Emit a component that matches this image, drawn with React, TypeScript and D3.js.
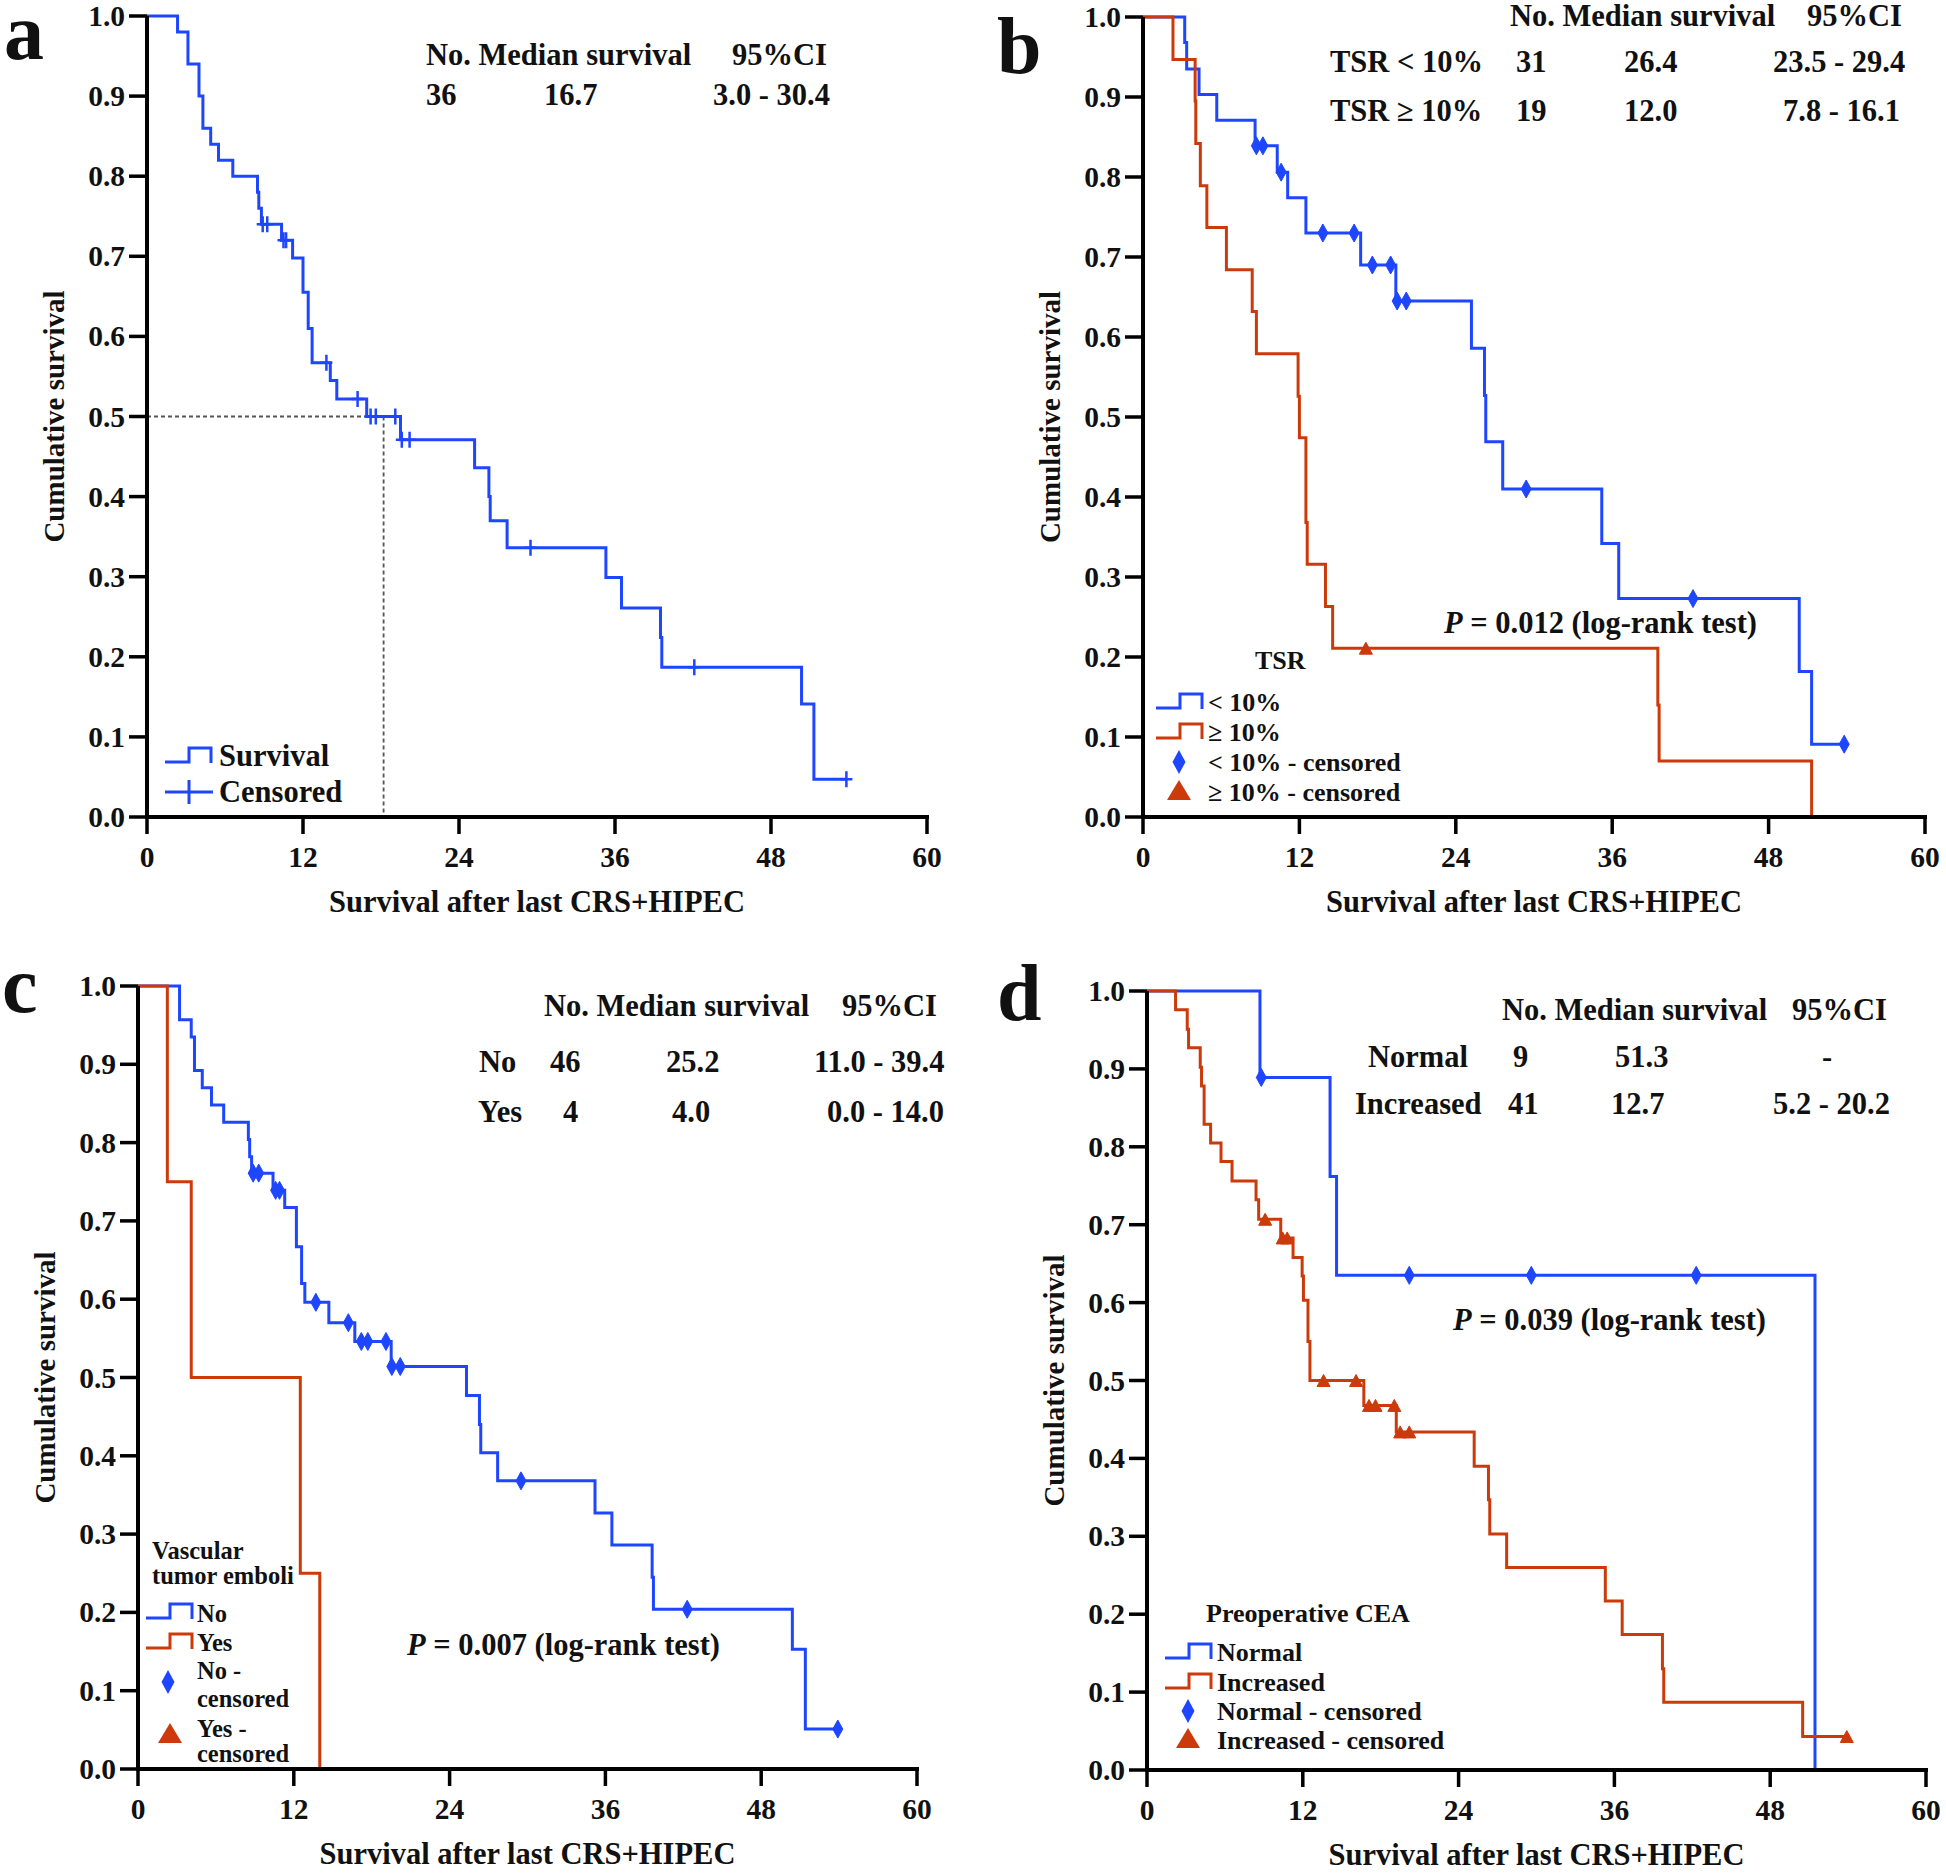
import React from 'react';
import * as d3 from 'd3';

const BLUE = '#1e46ff';
const RED = '#cc3a0c';
const FONT = '"Liberation Serif", "Times New Roman", serif';

const xTicks = [0, 12, 24, 36, 48, 60];
const yTicks = [0, 0.1, 0.2, 0.3, 0.4, 0.5, 0.6, 0.7, 0.8, 0.9, 1.0];

// Panel a: overall
const aTimes = [2.35, 3.15, 4.0, 4.3, 4.9, 5.5, 6.6, 8.5, 8.6, 8.8, 10.35, 11.2, 12.0, 12.4, 12.7, 14.1, 14.6, 16.9, 19.5, 25.2, 26.3, 26.4, 27.7, 35.3, 36.5, 39.5, 39.6, 50.35, 51.3];
const aSurv = [0.98, 0.94, 0.90, 0.86, 0.84, 0.82, 0.80, 0.78, 0.76, 0.74, 0.72, 0.698, 0.655, 0.61, 0.567, 0.545, 0.522, 0.50, 0.471, 0.436, 0.40, 0.37, 0.336, 0.299, 0.261, 0.224, 0.187, 0.141, 0.047];
const aCens = [8.9, 9.25, 10.5, 10.7, 13.8, 16.2, 17.2, 17.6, 19.1, 19.6, 20.2, 29.5, 42.1, 53.8];
const aMedian = 18.2;

// Panel b: TSR
const bBlueT = [3.2, 3.35, 4.3, 5.66, 8.6, 10.3, 11.1, 12.5, 16.7, 19.4, 25.2, 26.2, 26.3, 27.6, 35.2, 36.5, 50.35, 51.3];
const bBlueS = [0.968, 0.935, 0.903, 0.871, 0.839, 0.806, 0.774, 0.73, 0.69, 0.645, 0.586, 0.527, 0.469, 0.41, 0.342, 0.273, 0.182, 0.091];
const bBlueC = [8.7, 9.2, 10.6, 13.8, 16.2, 17.6, 19.0, 19.5, 20.2, 29.4, 42.2, 53.8];
const bRedT = [2.3, 4.0, 4.05, 4.4, 4.9, 6.4, 8.38, 8.7, 11.9, 12.0, 12.5, 12.6, 14.0, 14.55, 39.5, 39.6, 51.3];
const bRedS = [0.947, 0.895, 0.842, 0.789, 0.737, 0.684, 0.632, 0.579, 0.526, 0.474, 0.368, 0.316, 0.263, 0.211, 0.14, 0.07, 0];
const bRedC = [17.1];

// Panel c: vascular tumor emboli
const cBlueT = [3.2, 4.1, 4.35, 4.95, 5.66, 6.6, 8.5, 8.6, 8.75, 10.4, 11.3, 12.2, 12.6, 12.85, 14.7, 16.7, 19.5, 25.3, 26.3, 26.4, 27.7, 35.2, 36.5, 39.6, 39.7, 50.4, 51.4];
const cBlueS = [0.957, 0.935, 0.892, 0.870, 0.848, 0.826, 0.804, 0.782, 0.761, 0.739, 0.717, 0.667, 0.62, 0.596, 0.570, 0.546, 0.514, 0.477, 0.44, 0.404, 0.368, 0.327, 0.286, 0.245, 0.204, 0.153, 0.051];
const cBlueC = [8.87, 9.3, 10.6, 10.9, 13.7, 16.2, 17.2, 17.7, 19.1, 19.55, 20.2, 29.5, 42.3, 53.9];
const cRedT = [2.26, 4.1, 12.5, 14.0];
const cRedS = [0.75, 0.5, 0.25, 0];
const cRedC: number[] = [];

// Panel d: preoperative CEA
const dBlueT = [8.7, 14.1, 14.6, 51.45];
const dBlueS = [0.889, 0.762, 0.635, 0];
const dBlueC = [8.8, 20.2, 29.6, 42.3];
const dRedT = [2.2, 3.1, 3.2, 4.1, 4.2, 4.4, 4.9, 5.7, 6.55, 8.4, 8.6, 10.3, 11.25, 11.95, 12.05, 12.4, 12.55, 16.7, 19.2, 25.2, 26.3, 26.4, 27.7, 35.3, 36.6, 39.7, 39.8, 50.5];
const dRedS = [0.976, 0.951, 0.927, 0.902, 0.878, 0.829, 0.805, 0.781, 0.756, 0.732, 0.707, 0.683, 0.658, 0.634, 0.603, 0.55, 0.50, 0.468, 0.434, 0.39, 0.347, 0.303, 0.26, 0.217, 0.174, 0.13, 0.087, 0.043];
const dRedC = [9.1, 10.45, 10.8, 13.6, 16.1, 17.1, 17.6, 19.05, 19.5, 20.2, 53.9];

type Marker = 'plus' | 'diamond' | 'triangle';
type Series = { times: number[]; surv: number[]; cens: number[]; color: string; marker: Marker };
type Geo = { x0: number; x1: number; yTop: number; yBot: number };

function survAt(times: number[], surv: number[], t: number) {
  let s = 1;
  for (let i = 0; i < times.length; i++) if (times[i] <= t) s = surv[i];
  return s;
}

function markerPath(m: Marker, cx: number, cy: number, big = false) {
  const p = d3.path();
  if (m === 'plus') {
    const h = big ? 12 : 8, w = big ? 0 : 6;
    p.moveTo(cx, cy - h); p.lineTo(cx, cy + h);
    if (w) { p.moveTo(cx - w, cy); p.lineTo(cx + w, cy); }
  } else if (m === 'diamond') {
    const w = big ? 6.5 : 5, h = big ? 12 : 9;
    p.moveTo(cx, cy - h); p.lineTo(cx + w, cy); p.lineTo(cx, cy + h); p.lineTo(cx - w, cy); p.closePath();
  } else {
    const w = big ? 12 : 6.5, h = big ? 10 : 6;
    p.moveTo(cx, cy - h); p.lineTo(cx + w, cy + h); p.lineTo(cx - w, cy + h); p.closePath();
  }
  return p.toString();
}

function stepIcon(x: number, cy: number, color: string) {
  const p = d3.path();
  p.moveTo(x, cy + 7); p.lineTo(x + 24, cy + 7); p.lineTo(x + 24, cy - 7); p.lineTo(x + 46, cy - 7); p.lineTo(x + 46, cy + 8);
  return <path d={p.toString()} fill="none" stroke={color} strokeWidth={3} />;
}

function Panel({ geo, series, median }: { geo: Geo; series: Series[]; median?: number }) {
  const x = d3.scaleLinear().domain([0, 60]).range([geo.x0, geo.x1]);
  const y = d3.scaleLinear().domain([0, 1]).range([geo.yBot, geo.yTop]);
  const line = d3.line<[number, number]>().x(d => x(d[0])).y(d => y(d[1])).curve(d3.curveStepAfter);
  const fmt = d3.format('.1f');
  return (
    <g>
      {median !== undefined && (
        <g stroke="#555" strokeWidth={1.8} strokeDasharray="4,3" fill="none">
          <line x1={x(0)} x2={x(median)} y1={y(0.5)} y2={y(0.5)} />
          <line x1={x(median)} x2={x(median)} y1={y(0.5)} y2={y(0)} />
        </g>
      )}
      {series.map((s, i) => {
        const pts: [number, number][] = [[0, 1]];
        s.times.forEach((t, j) => pts.push([t, s.surv[j]]));
        const lastT = s.times[s.times.length - 1];
        const endT = Math.max(lastT, ...(s.cens.length ? s.cens : [lastT]));
        pts.push([endT, s.surv[s.surv.length - 1]]);
        return (
          <g key={i}>
            <path d={line(pts) || ''} fill="none" stroke={s.color} strokeWidth={3} />
            {s.cens.map((c, k) => (
              <path key={k} d={markerPath(s.marker, x(c), y(survAt(s.times, s.surv, c)))}
                fill={s.marker === 'plus' ? 'none' : s.color} stroke={s.color} strokeWidth={s.marker === 'plus' ? 2.5 : 1} />
            ))}
          </g>
        );
      })}
      <g stroke="#000" fill="none">
        <line x1={geo.x0} x2={geo.x0} y1={geo.yTop} y2={geo.yBot + 2} strokeWidth={4} />
        <line x1={geo.x0 - 2} x2={geo.x1 + 2} y1={geo.yBot} y2={geo.yBot} strokeWidth={4} />
        {yTicks.map(t => <line key={'y' + t} x1={geo.x0 - 18} x2={geo.x0} y1={y(t)} y2={y(t)} strokeWidth={3.5} />)}
        {xTicks.map(t => <line key={'x' + t} x1={x(t)} x2={x(t)} y1={geo.yBot} y2={geo.yBot + 17} strokeWidth={3.5} />)}
      </g>
      <g fontFamily={FONT} fontWeight="bold" fontSize={29.5} fill="#111">
        {yTicks.map(t => (
          <text key={'yl' + t} x={geo.x0 - 22} y={y(t)} textAnchor="end" dominantBaseline="central">{fmt(t)}</text>
        ))}
        {xTicks.map(t => (
          <text key={'xl' + t} x={x(t)} y={geo.yBot + 40} textAnchor="middle" dominantBaseline="central">{t}</text>
        ))}
        <text x={(geo.x0 + geo.x1) / 2} y={geo.yBot + 85} textAnchor="middle" dominantBaseline="central" fontSize={30.5}>Survival after last CRS+HIPEC</text>
        <text transform={`translate(${geo.x0 - 93},${(geo.yTop + geo.yBot) / 2}) rotate(-90)`} textAnchor="middle" dominantBaseline="central" fontSize={29}>Cumulative survival</text>
      </g>
    </g>
  );
}

const T = ({ x, y, children, size = 30.5, anchor = 'start' }: any) => (
  <text x={x} y={y} fontSize={size} textAnchor={anchor} dominantBaseline="central">{children}</text>
);

export default function App() {
  const geoA: Geo = { x0: 147, x1: 927, yTop: 16, yBot: 817 };
  const geoB: Geo = { x0: 1143, x1: 1925, yTop: 17, yBot: 817 };
  const geoC: Geo = { x0: 138, x1: 917, yTop: 986, yBot: 1769 };
  const geoD: Geo = { x0: 1147, x1: 1926, yTop: 991, yBot: 1770 };
  const LG = 26;
  return (
    <svg width={1946} height={1874} style={{ position: 'absolute', left: 0, top: 0, background: '#fff' }}>
      <rect width={1946} height={1874} fill="#fff" />
      <Panel geo={geoA} median={aMedian}
        series={[{ times: aTimes, surv: aSurv, cens: aCens, color: BLUE, marker: 'plus' }]} />
      <Panel geo={geoB}
        series={[{ times: bBlueT, surv: bBlueS, cens: bBlueC, color: BLUE, marker: 'diamond' },
                 { times: bRedT, surv: bRedS, cens: bRedC, color: RED, marker: 'triangle' }]} />
      <Panel geo={geoC}
        series={[{ times: cBlueT, surv: cBlueS, cens: cBlueC, color: BLUE, marker: 'diamond' },
                 { times: cRedT, surv: cRedS, cens: cRedC, color: RED, marker: 'triangle' }]} />
      <Panel geo={geoD}
        series={[{ times: dBlueT, surv: dBlueS, cens: dBlueC, color: BLUE, marker: 'diamond' },
                 { times: dRedT, surv: dRedS, cens: dRedC, color: RED, marker: 'triangle' }]} />

      <g fontFamily={FONT} fontWeight="bold" fill="#111">
        {/* panel letters */}
        <text x={4} y={59} fontSize={80}>a</text>
        <text x={997} y={73} fontSize={80}>b</text>
        <text x={2} y={1012} fontSize={80}>c</text>
        <text x={997} y={1020} fontSize={80}>d</text>

        {/* panel a */}
        <T x={426} y={55}>No. Median survival</T>
        <T x={732} y={55}>95%CI</T>
        <T x={426} y={95}>36</T>
        <T x={544} y={95}>16.7</T>
        <T x={713} y={95}>3.0 - 30.4</T>
        {stepIcon(165, 755, BLUE)}
        <T x={219} y={756}>Survival</T>
        <line x1={165} x2={213} y1={792} y2={792} stroke={BLUE} strokeWidth={3} />
        <path d={markerPath('plus', 189, 792, true)} stroke={BLUE} strokeWidth={3} fill="none" />
        <T x={219} y={792}>Censored</T>

        {/* panel b */}
        <T x={1510} y={16}>No. Median survival</T>
        <T x={1807} y={16}>95%CI</T>
        <T x={1330} y={62}>TSR &lt; 10%</T>
        <T x={1516} y={62}>31</T>
        <T x={1624} y={62}>26.4</T>
        <T x={1773} y={62}>23.5 - 29.4</T>
        <T x={1330} y={111}>TSR ≥ 10%</T>
        <T x={1516} y={111}>19</T>
        <T x={1624} y={111}>12.0</T>
        <T x={1783} y={111}>7.8 - 16.1</T>
        <text x={1444} y={623} fontSize={30.5} dominantBaseline="central"><tspan fontStyle="italic">P</tspan> = 0.012 (log-rank test)</text>
        <T x={1255} y={660} size={LG}>TSR</T>
        {stepIcon(1156, 701, BLUE)}
        <T x={1208} y={702} size={LG}>&lt; 10%</T>
        {stepIcon(1156, 731, RED)}
        <T x={1208} y={732} size={LG}>≥ 10%</T>
        <path d={markerPath('diamond', 1179, 762, true)} fill={BLUE} />
        <T x={1208} y={762} size={LG}>&lt; 10% - censored</T>
        <path d={markerPath('triangle', 1179, 790, true)} fill={RED} />
        <T x={1208} y={792} size={LG}>≥ 10% - censored</T>

        {/* panel c */}
        <T x={544} y={1006}>No. Median survival</T>
        <T x={842} y={1006}>95%CI</T>
        <T x={479} y={1062}>No</T>
        <T x={550} y={1062}>46</T>
        <T x={666} y={1062}>25.2</T>
        <T x={814} y={1062}>11.0 - 39.4</T>
        <T x={478} y={1112}>Yes</T>
        <T x={563} y={1112}>4</T>
        <T x={672} y={1112}>4.0</T>
        <T x={827} y={1112}>0.0 - 14.0</T>
        <text x={407} y={1645} fontSize={30.5} dominantBaseline="central"><tspan fontStyle="italic">P</tspan> = 0.007 (log-rank test)</text>
        <T x={152} y={1550} size={24.5}>Vascular</T>
        <T x={152} y={1575} size={24.5}>tumor emboli</T>
        {stepIcon(146, 1611, BLUE)}
        <T x={197} y={1613} size={24.5}>No</T>
        {stepIcon(146, 1641, RED)}
        <T x={197} y={1642} size={24.5}>Yes</T>
        <path d={markerPath('diamond', 168, 1682, true)} fill={BLUE} />
        <T x={197} y={1670} size={24.5}>No -</T>
        <T x={197} y={1698} size={24.5}>censored</T>
        <path d={markerPath('triangle', 170, 1733, true)} fill={RED} />
        <T x={197} y={1728} size={24.5}>Yes -</T>
        <T x={197} y={1753} size={24.5}>censored</T>

        {/* panel d */}
        <T x={1502} y={1010}>No. Median survival</T>
        <T x={1792} y={1010}>95%CI</T>
        <T x={1368} y={1057}>Normal</T>
        <T x={1513} y={1057}>9</T>
        <T x={1615} y={1057}>51.3</T>
        <T x={1822} y={1057}>-</T>
        <T x={1355} y={1104}>Increased</T>
        <T x={1508} y={1104}>41</T>
        <T x={1611} y={1104}>12.7</T>
        <T x={1773} y={1104}>5.2 - 20.2</T>
        <text x={1453} y={1320} fontSize={30.5} dominantBaseline="central"><tspan fontStyle="italic">P</tspan> = 0.039 (log-rank test)</text>
        <T x={1206} y={1613} size={LG}>Preoperative CEA</T>
        {stepIcon(1165, 1651, BLUE)}
        <T x={1217} y={1652} size={LG}>Normal</T>
        {stepIcon(1165, 1681, RED)}
        <T x={1217} y={1682} size={LG}>Increased</T>
        <path d={markerPath('diamond', 1188, 1711, true)} fill={BLUE} />
        <T x={1217} y={1711} size={LG}>Normal - censored</T>
        <path d={markerPath('triangle', 1188, 1738, true)} fill={RED} />
        <T x={1217} y={1740} size={LG}>Increased - censored</T>
      </g>
    </svg>
  );
}
